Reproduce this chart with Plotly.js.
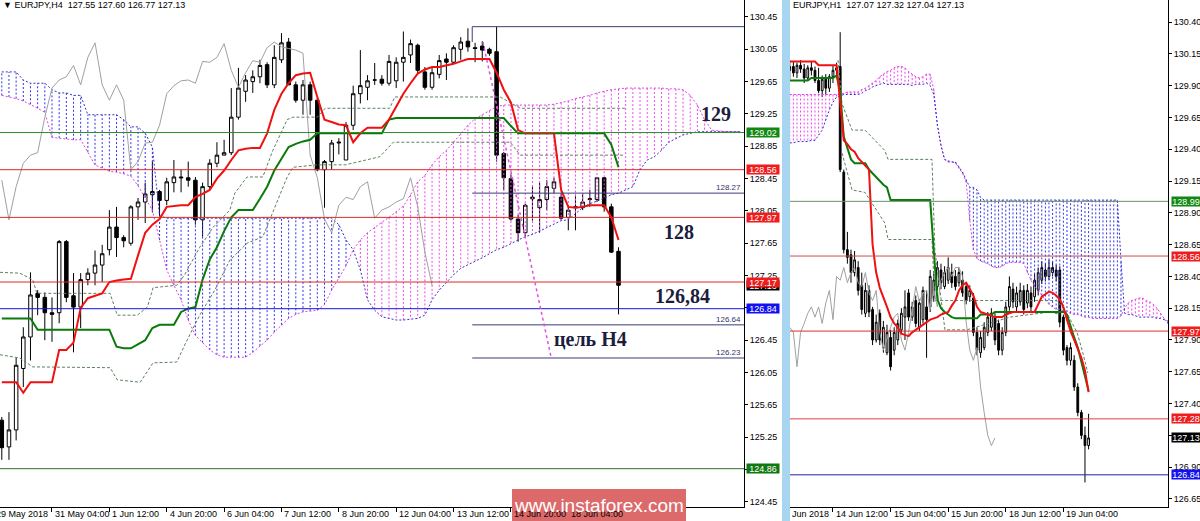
<!DOCTYPE html>
<html><head><meta charset="utf-8">
<script src="https://cdn.plot.ly/plotly-3.0.1.min.js"></script>
<style>html,body{margin:0;padding:0;background:#fff}#chart{width:1200px;height:521px}</style>
</head><body><div id="chart"></div>
<script>
// ================= DATA =================
// ---- H4 panel (bar index 1..87) ----
const h4Start = 1;
const h4Open = [125.46,125.13,125.34,126.10,126.49,127.03,126.98,126.79,126.79,127.67,
 127.00,126.86,127.20,127.28,127.38,127.57,127.85,127.72,127.65,128.10,
 128.16,128.25,128.29,128.18,128.40,128.47,128.46,128.43,127.94,128.35,
 128.64,128.74,128.77,129.21,129.53,129.65,129.71,129.86,129.61,129.92,
 130.14,129.61,129.42,129.61,129.42,128.56,128.66,128.89,128.68,129.11,
 129.50,129.58,129.67,129.68,129.63,129.66,129.89,129.98,130.10,129.77,
 129.58,129.74,129.93,129.89,130.05,130.15,130.07,130.09,130.05,130.02,
 128.76,128.45,127.95,127.78,128.20,128.09,128.19,128.33,128.22,127.97,
 128.09,128.09,128.19,128.19,128.46,128.10,127.55];
const h4High = [125.50,125.56,126.23,126.61,127.29,127.07,127.04,126.98,127.69,127.69,
 127.28,127.28,127.34,127.56,127.63,128.06,128.10,127.75,128.12,128.21,
 128.40,128.66,128.31,128.46,128.68,128.56,128.66,128.47,128.40,128.69,
 128.90,128.93,129.57,129.82,129.73,129.79,129.92,129.89,130.10,130.25,
 130.19,129.65,129.67,129.65,129.45,128.68,128.93,128.95,129.15,129.60,
 130.04,129.73,129.88,129.73,129.98,129.95,130.27,130.17,130.12,129.83,
 129.83,129.98,130.00,130.10,130.20,130.31,130.13,130.15,130.07,130.33,
 128.78,128.50,128.00,128.14,128.35,128.40,128.43,128.46,128.27,128.10,
 128.25,128.27,128.31,128.47,128.47,128.14,127.60];
const h4Low = [124.97,124.97,125.21,125.87,126.20,126.76,126.45,126.43,126.66,126.92,
 126.30,126.60,127.13,127.13,127.17,127.50,127.48,127.60,127.62,127.94,
 127.90,128.03,127.98,128.12,128.28,128.28,128.35,127.88,127.73,128.32,
 128.59,128.74,128.74,129.18,129.40,129.51,129.63,129.57,129.57,129.88,
 129.61,129.39,129.24,129.24,128.54,128.09,128.56,128.75,128.68,129.05,
 129.38,129.42,129.61,129.60,129.60,129.57,129.65,129.88,129.75,129.55,
 129.55,129.69,129.67,129.88,129.92,130.02,129.89,129.90,129.97,128.66,
 128.31,127.93,127.67,127.73,127.93,127.78,128.06,128.27,127.94,127.81,
 127.81,128.06,128.10,128.16,128.04,127.53,126.77];
const h4Close = [125.12,125.34,126.14,126.49,127.01,126.98,126.79,126.77,127.67,126.98,
 126.86,127.20,127.28,127.38,127.52,127.85,127.72,127.68,128.10,128.16,
 128.26,128.29,128.18,128.41,128.47,128.46,128.43,127.94,128.35,128.64,
 128.74,128.77,129.21,129.57,129.67,129.71,129.85,129.61,129.95,130.13,
 129.61,129.42,129.61,129.42,128.56,128.66,128.89,128.90,129.11,129.50,
 129.60,129.66,129.67,129.63,129.90,129.89,129.95,130.12,129.79,129.58,
 129.76,129.91,129.89,130.07,130.14,130.08,130.06,130.04,130.00,128.74,
 128.46,127.95,127.78,128.12,128.22,128.19,128.35,128.41,127.96,128.06,
 128.10,128.16,128.20,128.46,128.10,127.54,127.13];
const h4Tenkan = [125.93,125.93,125.93,125.80,125.93,125.93,125.93,125.93,126.33,126.33,
 126.42,126.85,126.97,127.00,127.03,127.17,127.19,127.20,127.21,127.50,
 127.78,127.88,127.95,128.10,128.11,128.12,128.12,128.22,128.26,128.31,
 128.45,128.55,128.68,128.80,128.82,128.83,128.83,129.01,129.30,129.50,
 129.63,129.73,129.75,129.76,129.46,129.18,129.15,129.12,129.11,128.90,
 129.01,129.08,129.08,129.08,129.18,129.35,129.50,129.63,129.75,129.80,
 129.83,129.83,129.85,129.87,129.90,129.93,129.93,129.93,129.93,129.76,
 129.55,129.39,129.05,129.01,129.01,129.01,129.01,129.01,128.31,128.10,
 128.09,128.10,128.12,128.12,128.12,127.97,127.69];
const h4Kijun = [126.72,126.72,126.72,126.72,126.72,126.58,126.58,126.58,126.58,126.58,
 126.58,126.58,126.58,126.58,126.58,126.58,126.37,126.35,126.35,126.40,
 126.45,126.60,126.64,126.64,126.64,126.80,126.84,126.86,127.20,127.45,
 127.60,127.80,127.97,128.06,128.06,128.06,128.20,128.35,128.55,128.70,
 128.84,128.88,128.91,128.93,129.01,129.01,129.01,129.01,129.01,129.01,
 129.01,129.01,129.01,129.01,129.18,129.20,129.20,129.20,129.20,129.20,
 129.20,129.20,129.20,129.20,129.20,129.20,129.20,129.20,129.20,129.20,
 129.20,129.10,129.01,129.01,129.01,129.01,129.01,129.01,129.01,129.01,
 129.01,129.01,129.01,129.01,129.01,128.87,128.59];
// senkou spans, bar index 1..104
const h4SenkouA = [129.48,129.46,129.44,129.41,129.37,129.32,129.27,128.96,128.95,128.94,
 128.93,128.93,128.78,128.62,128.58,128.54,128.53,128.51,128.48,128.36,
 128.21,128.06,127.69,127.32,127.13,126.95,126.70,126.51,126.42,126.33,
 126.27,126.24,126.24,126.24,126.24,126.30,126.38,126.45,126.55,126.64,
 126.72,126.77,126.80,126.81,126.82,126.89,127.07,127.22,127.37,127.57,
 127.69,127.78,127.85,127.91,127.97,128.04,128.11,128.25,128.41,128.49,
 128.62,128.72,128.80,128.90,129.01,129.11,129.19,129.24,129.29,129.34,
 129.36,129.36,129.36,129.36,129.36,129.36,129.36,129.37,129.39,129.41,
 129.44,129.46,129.48,129.51,129.53,129.55,129.56,129.57,129.57,129.57,
 129.57,129.57,129.57,129.56,129.56,129.55,129.48,129.36,129.18,129.05,
 129.04,129.03,129.03,129.03];
const h4SenkouB = [129.77,129.77,129.77,129.67,129.63,129.63,129.63,129.55,129.51,129.51,
 129.48,129.48,129.24,129.24,129.24,129.24,129.24,129.18,129.09,129.09,
 129.01,128.84,127.99,127.96,127.96,127.96,127.96,127.96,127.96,127.96,
 127.96,127.96,127.96,127.96,127.96,127.96,127.96,127.96,127.96,127.96,
 127.96,127.96,127.96,127.96,127.96,127.96,127.96,127.88,127.69,127.57,
 127.32,126.95,126.82,126.74,126.72,126.70,126.70,126.71,126.72,126.76,
 126.95,127.07,127.17,127.26,127.34,127.38,127.42,127.47,127.52,127.57,
 127.60,127.65,127.69,127.73,127.76,127.80,127.84,127.89,127.93,127.94,
 128.01,128.09,128.14,128.17,128.21,128.25,128.27,128.31,128.35,128.56,
 128.68,128.72,128.80,128.90,128.95,128.99,129.01,129.03,129.03,129.03,
 129.03,129.03,129.03,129.03];
// dashed higher-timeframe lines (knots: bar index, price)
const h4D1Idx = [0.75,3.5,5.3,5.9,16.1,17.1,19.9,21.3,22.1,25.4,26.5,28.6,30.5,32.8,33.5,35.2,37.4,38.8,40.8,41.6,45,46.1,55.1,55.8,70.5,73.3,87.9];
const h4D1Val = [127.29,127.28,127.20,127.03,127.03,126.76,126.76,126.86,127.10,127.13,127.26,127.60,127.85,128.06,128.27,128.47,128.47,128.80,129.18,129.21,129.21,129.32,129.32,129.46,129.46,129.32,129.32];
const h4D2Idx = [0.75,3.5,5.3,16.1,17.1,20.3,22.1,25.4,26.5,28.6,30.7,32.8,35.2,37.4,40.8,41.6,45,48.9,53.7,55.6,71.9,73.3,87.9];
const h4D2Val = [126.27,126.23,126.12,126.11,125.96,125.93,126.17,126.18,126.39,126.76,127.07,127.44,127.65,127.73,128.47,128.59,128.62,128.62,128.72,128.90,128.90,128.74,128.74];
const h4Levels = [129.02,128.56,127.97,127.17,126.84,124.86];
const h4FibLevels = [130.33,128.27,126.64,126.23];
const h4FibStart = 66.6;
const h4TargetLine = {i0:68.1, p0:130.14, i1:77.6, p1:126.24};
const h4TickIdx = [8,16,24,32,40,48,56,64,72,80];
const h4TickText = ['31 May 04:00','1 Jun 12:00','4 Jun 20:00','6 Jun 04:00','7 Jun 12:00','8 Jun 20:00','12 Jun 04:00','13 Jun 12:00','14 Jun 20:00','18 Jun 04:00'];
const h4YTicks = [130.45,130.05,129.65,129.25,128.85,128.45,128.05,127.65,127.25,126.85,126.45,126.05,125.65,125.25,124.85,124.45];

// ---- H1 panel (bar index 4..87) ----
const h1Start = 4;
const h1Open = [130.02,130.05,130.00,130.06,130.03,129.96,130.04,130.02,129.94,129.86,
 129.95,129.88,129.97,130.02,130.05,129.22,128.61,128.57,128.43,128.47,
 128.33,128.11,128.29,128.14,127.90,128.11,127.84,127.80,127.92,127.82,
 127.90,127.98,128.08,128.27,128.08,128.21,128.00,128.06,128.16,128.16,
 128.24,128.32,128.45,128.32,128.37,128.43,128.40,128.35,128.37,128.32,
 128.24,128.23,127.96,127.80,127.84,127.96,128.00,128.08,128.03,127.82,
 127.96,128.16,128.30,128.16,128.20,128.29,128.19,128.27,128.24,128.29,
 128.37,128.45,128.40,128.43,128.45,128.45,128.08,127.84,127.74,127.74,
 127.53,127.33,127.15,127.07];
const h1High = [130.10,130.09,130.08,130.10,130.07,130.06,130.09,130.05,130.04,129.98,
 129.99,129.99,130.06,130.08,130.32,129.24,128.75,128.61,128.60,128.52,
 128.43,128.35,128.33,128.16,128.10,128.14,128.05,128.02,127.98,128.00,
 128.06,128.15,128.29,128.30,128.20,128.25,128.22,128.32,128.29,128.45,
 128.42,128.52,128.50,128.48,128.55,128.50,128.45,128.47,128.44,128.35,
 128.33,128.27,128.00,127.97,128.04,128.12,128.15,128.12,128.06,128.00,
 128.20,128.40,128.35,128.32,128.35,128.33,128.34,128.32,128.42,128.47,
 128.52,128.50,128.53,128.52,128.49,128.48,128.10,127.86,127.88,127.78,
 127.56,127.35,127.22,127.32];
const h1Low = [129.95,129.97,129.96,130.00,129.92,129.94,129.98,129.92,129.84,129.81,
 129.83,129.85,129.92,129.98,129.22,128.58,128.50,128.35,128.40,128.25,
 128.10,128.08,128.08,127.86,127.88,127.86,127.80,127.78,127.66,127.78,
 127.86,127.95,127.90,128.05,128.05,128.00,127.97,128.03,127.76,128.12,
 128.20,128.29,128.30,128.30,128.34,128.31,128.29,128.32,128.24,128.18,
 128.20,127.93,127.78,127.76,127.82,127.93,127.97,127.86,127.78,127.78,
 127.93,128.13,128.15,128.12,128.17,128.10,128.15,128.12,128.20,128.25,
 128.34,128.36,128.37,128.40,128.36,128.00,127.78,127.70,127.70,127.50,
 127.30,127.12,126.78,127.04];
const h1Close = [130.05,130.00,130.06,130.03,129.96,130.04,130.02,129.94,129.86,129.95,
 129.88,129.97,130.02,130.04,129.24,128.61,128.55,128.43,128.53,128.29,
 128.14,128.29,128.12,127.90,128.04,127.90,128.00,127.96,127.69,127.96,
 128.03,128.11,128.16,128.08,128.16,128.03,128.19,128.29,128.06,128.40,
 128.37,128.47,128.35,128.43,128.47,128.35,128.32,128.43,128.27,128.21,
 128.29,127.96,127.82,127.92,128.00,128.08,128.11,127.90,127.82,127.96,
 128.16,128.32,128.20,128.27,128.29,128.14,128.29,128.16,128.37,128.43,
 128.47,128.40,128.47,128.47,128.40,128.04,127.82,127.74,127.84,127.53,
 127.33,127.15,127.07,127.13];
const h1Tenkan = [130.09,130.09,130.09,130.09,130.09,130.09,130.09,130.09,130.06,130.06,
 130.06,130.06,130.06,130.06,129.77,129.47,129.44,129.40,129.38,129.33,
 129.30,129.27,129.24,128.65,128.43,128.31,128.24,128.16,128.08,128.03,
 128.00,127.95,127.94,127.93,127.96,127.98,128.00,128.02,128.04,128.06,
 128.07,128.08,128.10,128.11,128.12,128.17,128.21,128.29,128.33,128.35,
 128.30,128.25,128.16,128.12,128.11,128.10,128.09,128.08,128.08,128.08,
 128.10,128.11,128.12,128.12,128.12,128.12,128.12,128.12,128.12,128.18,
 128.24,128.26,128.28,128.27,128.25,128.22,128.16,128.06,127.97,127.90,
 127.83,127.76,127.66,127.49];
const h1Kijun = [129.94,129.94,129.94,129.94,129.94,129.94,129.96,129.96,129.96,129.96,
 129.96,129.96,129.96,129.98,129.85,129.50,129.40,129.32,129.29,129.29,
 129.29,129.29,129.24,129.21,129.18,129.15,129.12,129.10,129.00,129.00,
 129.00,129.00,129.00,129.00,129.00,129.00,129.00,129.00,129.00,129.00,
 128.60,128.22,128.15,128.12,128.10,128.08,128.07,128.07,128.07,128.07,
 128.07,128.07,128.07,128.10,128.10,128.10,128.10,128.12,128.12,128.12,
 128.12,128.12,128.12,128.12,128.12,128.12,128.12,128.12,128.12,128.12,
 128.12,128.12,128.12,128.12,128.12,128.12,128.12,128.10,128.00,127.92,
 127.84,127.73,127.60,127.50];
// senkou spans, bar index 4..109
const h1SenkouA = [129.83,129.83,129.83,129.83,129.83,129.83,129.83,129.83,129.83,129.83,
 129.83,129.83,129.83,129.83,129.83,129.84,129.85,129.85,129.85,129.85,
 129.87,129.88,129.90,129.92,129.94,129.97,129.99,130.01,130.02,130.04,
 130.05,130.05,130.04,130.01,129.99,129.97,129.96,129.97,129.99,129.99,
 129.87,129.59,129.43,129.32,129.31,129.30,129.29,129.25,129.21,129.14,
 128.84,128.61,128.54,128.52,128.51,128.50,128.48,128.47,128.47,128.48,
 128.50,128.51,128.51,128.51,128.51,128.50,128.43,128.37,128.32,128.29,
 128.25,128.21,128.18,128.16,128.14,128.14,128.13,128.12,128.11,128.10,
 128.10,128.09,128.08,128.08,128.07,128.07,128.07,128.07,128.07,128.07,
 128.07,128.07,128.09,128.15,128.19,128.21,128.22,128.23,128.23,128.21,
 128.20,128.18,128.15,128.11,128.07,128.03];
const h1SenkouB = [129.45,129.45,129.46,129.46,129.46,129.46,129.47,129.47,129.51,129.55,
 129.63,129.71,129.77,129.81,129.82,129.83,129.83,129.83,129.83,129.83,
 129.84,129.86,129.87,129.89,129.90,129.91,129.92,129.91,129.91,129.91,
 129.91,129.91,129.91,129.91,129.90,129.91,129.91,129.91,129.92,129.90,
 129.83,129.59,129.43,129.32,129.30,129.30,129.30,129.26,129.22,129.16,
 129.10,129.10,129.08,129.02,129.00,129.00,129.00,129.00,129.00,129.00,
 129.00,129.00,129.00,129.00,129.00,129.00,129.00,129.00,129.00,129.00,
 129.00,129.00,129.00,129.00,129.00,129.00,129.00,129.00,129.00,129.00,
 129.00,129.00,129.00,129.00,129.00,129.00,129.00,129.00,129.00,129.00,
 129.00,129.00,128.53,128.11,128.10,128.10,128.09,128.08,128.08,128.08,
 128.08,128.08,128.07,128.07,128.06,128.05];
const h1D1Idx = [17.4,18.5,21.3,24.9,30.4,31.3,43.5,44.3,47.1,53.2,65.2,71.6,76.3,79.1];
const h1D1Val = [130.10,129.76,129.55,129.55,129.39,129.32,129.32,128.61,127.98,127.98,128.08,128.10,128.12,128.10];
const h1D2Idx = [18.5,21.3,24.9,30.4,31.3,43.5,44.3,78.2,81,83.8,85.4,86.8];
const h1D2Val = [129.37,129.08,129.06,128.82,128.69,128.69,128.21,128.21,128.11,127.96,127.80,127.64];
const h1Levels = [128.99,128.56,127.97,127.28,126.84];
const h1TickIdx = [16,32,48,64,80];
const h1TickText = ['14 Jun 12:00','15 Jun 04:00','15 Jun 20:00','18 Jun 12:00','19 Jun 04:00'];
const h1YTicks = [130.40,130.15,129.90,129.65,129.40,129.15,128.90,128.65,128.40,128.15,127.90,127.65,127.40,127.15,126.90,126.65];

// ================= DRAWING =================
const F = 'Liberation Sans, Arial, DejaVu Sans, sans-serif';
const SERIF = 'Liberation Serif, Times New Roman, serif';
const PLOT_H = 507;
const px = x => x / 1200;              // paper x from pixel
const py = y => (PLOT_H - y) / PLOT_H; // paper y from pixel

const idx = (start, n) => Array.from({length:n}, (_, k) => start + k);

function panel(xa, ya, start, O, Hh, L, C, T, K, sStart, SA, SB, d1i, d1v, d2i, d2v) {
  const tr = [];
  const xs = idx(sStart, SA.length);
  // kumo hatch: dotted vertical segments per bar
  for (const pink of [false, true]) {
    const hx = [], hy = [];
    for (let k = 0; k < xs.length; k++) {
      if ((SA[k] >= SB[k]) === pink) { hx.push(xs[k], xs[k], null); hy.push(SA[k], SB[k], null); }
    }
    tr.push({type:'scatter', mode:'lines', x:hx, y:hy, xaxis:xa, yaxis:ya, hoverinfo:'skip',
      line:{color: pink ? 'rgb(238,70,238)' : 'rgb(50,50,235)', width:1, dash:'2px,2px'}});
  }
  tr.push({type:'scatter', mode:'lines', x:xs, y:SA, xaxis:xa, yaxis:ya, hoverinfo:'skip',
    line:{color:'#e040e0', width:1, dash:'2px,2px'}});
  tr.push({type:'scatter', mode:'lines', x:xs, y:SB, xaxis:xa, yaxis:ya, hoverinfo:'skip',
    line:{color:'#3030c8', width:1, dash:'2px,2px'}});
  // dashed higher TF lines
  tr.push({type:'scatter', mode:'lines', x:d1i, y:d1v, xaxis:xa, yaxis:ya, hoverinfo:'skip',
    line:{color:'#5f7f5f', width:1, dash:'3px,2px'}});
  tr.push({type:'scatter', mode:'lines', x:d2i, y:d2v, xaxis:xa, yaxis:ya, hoverinfo:'skip',
    line:{color:'#5f7f5f', width:1, dash:'3px,2px'}});
  const cx = idx(start, C.length);
  // chikou span: closes shifted back 26 bars
  tr.push({type:'scatter', mode:'lines', x:cx.slice(26).map(v => v - 26), y:C.slice(26), xaxis:xa, yaxis:ya,
    hoverinfo:'skip', line:{color:'#a0a0a0', width:1}});
  tr.push({type:'candlestick', x:cx, open:O, high:Hh, low:L, close:C, xaxis:xa, yaxis:ya, hoverinfo:'skip',
    whiskerwidth:0,
    increasing:{line:{color:'#000', width:1}, fillcolor:'#fff'},
    decreasing:{line:{color:'#000', width:1}, fillcolor:'#000'}});
  tr.push({type:'scatter', mode:'lines', x:cx, y:K, xaxis:xa, yaxis:ya, hoverinfo:'skip',
    line:{color:'#0a7a0a', width:2}});
  tr.push({type:'scatter', mode:'lines', x:cx, y:T, xaxis:xa, yaxis:ya, hoverinfo:'skip',
    line:{color:'#f01010', width:2}});
  return tr;
}

const traces = [
  ...panel('x','y', h4Start, h4Open, h4High, h4Low, h4Close, h4Tenkan, h4Kijun, 1, h4SenkouA, h4SenkouB, h4D1Idx, h4D1Val, h4D2Idx, h4D2Val),
  ...panel('x2','y2', h1Start, h1Open, h1High, h1Low, h1Close, h1Tenkan, h1Kijun, 4, h1SenkouA, h1SenkouB, h1D1Idx, h1D1Val, h1D2Idx, h1D2Val)
];

// ---- shapes ----
const shapes = [];
const h4LevelColors = ['#2a8f2a','#e02828','#e02828','#e02828','#1414e0','#2e6e2e'];
h4Levels.forEach((v, k) => shapes.push({type:'line', xref:'x domain', x0:0, x1:1, yref:'y', y0:v, y1:v,
  line:{color:h4LevelColors[k], width:1}}));
h4FibLevels.forEach(v => shapes.push({type:'line', xref:'x', x0:h4FibStart, x1:104.5, yref:'y', y0:v, y1:v,
  line:{color:'#3c3c78', width:1}}));
shapes.push({type:'line', xref:'x', x0:h4FibStart, x1:h4FibStart, yref:'y', y0:h4FibLevels[0], y1:130.14,
  line:{color:'#3c3c78', width:1}});
shapes.push({type:'line', xref:'x', yref:'y', x0:h4TargetLine.i0, y0:h4TargetLine.p0, x1:h4TargetLine.i1, y1:h4TargetLine.p1,
  line:{color:'#e050e0', width:1.5, dash:'3px,3px'}});
const h1LevelColors = ['#6a8f6a','#c85050','#d83030','#e04040','#2020a8'];
h1Levels.forEach((v, k) => shapes.push({type:'line', xref:'x2 domain', x0:0, x1:1, yref:'y2', y0:v, y1:v,
  line:{color:h1LevelColors[k], width:1}}));
// panel separator strip
shapes.push({type:'rect', xref:'paper', yref:'paper', x0:px(782), x1:px(790), y0:py(521), y1:1,
  fillcolor:'#a8d6f0', line:{width:0}, layer:'above'});
// watermark
shapes.push({type:'rect', xref:'paper', yref:'paper', x0:px(512), x1:px(686), y0:py(521), y1:py(489),
  fillcolor:'#dd6a6a', line:{width:0}, layer:'above'});

// ---- annotations ----
const ann = [];
ann.push({xref:'paper', yref:'paper', x:px(1), y:py(5), xanchor:'left', yanchor:'middle', showarrow:false,
  text:'▼ EURJPY,H4  127.55 127.60 126.77 127.13', font:{family:F, size:9, color:'#000'}});
ann.push({xref:'paper', yref:'paper', x:px(791), y:py(5), xanchor:'left', yanchor:'middle', showarrow:false,
  text:'EURJPY,H1  127.07 127.32 127.04 127.13', font:{family:F, size:9, color:'#000'}});
// big level captions
const big = (t, x, y) => ann.push({xref:'paper', yref:'paper', x:px(x), y:py(y), xanchor:'center', yanchor:'middle',
  showarrow:false, text:'<b>' + t + '</b>', font:{family:SERIF, size:20, color:'#1c1c3c'}});
big('129', 716, 114); big('128', 679, 232); big('126,84', 682, 296); big('цель H4', 590, 339);
// fib small labels
h4FibLevels.slice(1).forEach(v => ann.push({xref:'paper', yref:'y', x:px(743), y:v, xanchor:'right', yanchor:'bottom',
  showarrow:false, text:v.toFixed(2), font:{family:F, size:8, color:'#33336a'}, yshift:-1}));
// price tags on axes
const tag = (ya, xpix, v, col, w) => ann.push({xref:'paper', yref:ya, x:px(xpix), y:v, xanchor:'left', yanchor:'middle',
  showarrow:false, text:v.toFixed(2), bgcolor:col, width:w, height:9, borderpad:0,
  font:{family:F, size:9, color:'#fff'}});
tag('y', 746, 129.02, '#118811', 32); tag('y', 746, 128.56, '#ee1c1c', 32); tag('y', 746, 127.97, '#ee1c1c', 32);
tag('y', 746, 127.13, '#000000', 32); tag('y', 746, 127.17, '#ee1c1c', 32); tag('y', 746, 126.84, '#1010f0', 32);
tag('y', 746, 124.86, '#117711', 32);
tag('y2', 1171, 128.99, '#118811', 28); tag('y2', 1171, 128.56, '#ee1c1c', 28); tag('y2', 1171, 127.97, '#ee1c1c', 28);
tag('y2', 1171, 127.28, '#ee1c1c', 28); tag('y2', 1171, 127.13, '#000000', 28); tag('y2', 1171, 126.84, '#1010f0', 28);
// date labels
h4TickIdx.forEach((v, k) => ann.push({xref:'x', yref:'paper', x:v, y:py(514), xanchor:'left', yanchor:'middle',
  showarrow:false, text:h4TickText[k], xshift:1, font:{family:F, size:9, color:'#000'}}));
ann.push({xref:'paper', yref:'paper', x:px(-6), y:py(514), xanchor:'left', yanchor:'middle', showarrow:false,
  text:'29 May 2018', font:{family:F, size:9, color:'#000'}});
h1TickIdx.forEach((v, k) => ann.push({xref:'x2', yref:'paper', x:v, y:py(514), xanchor:'left', yanchor:'middle',
  showarrow:false, text:h1TickText[k], xshift:1, font:{family:F, size:9, color:'#000'}}));
ann.push({xref:'paper', yref:'paper', x:px(790), y:py(514), xanchor:'left', yanchor:'middle', showarrow:false,
  text:'Jun 2018', font:{family:F, size:9, color:'#000'}});
ann.push({xref:'paper', yref:'paper', x:px(599), y:py(505), xanchor:'center', yanchor:'middle', showarrow:false,
  text:'www.instaforex.com', font:{family:F, size:19, color:'#fff'}});

const axX = (dom, rng, tv) => ({domain:dom, range:rng, showgrid:false, zeroline:false, showline:true, linecolor:'#000',
  linewidth:1, ticks:'outside', ticklen:4, tickcolor:'#000', tickvals:tv, showticklabels:false,
  rangeslider:{visible:false}, fixedrange:true});
const axY = (anchor, rng, tv) => ({anchor:anchor, side:'right', range:rng, showgrid:false, zeroline:false, showline:true,
  linecolor:'#000', linewidth:1, ticks:'outside', ticklen:3, tickcolor:'#000', tickvals:tv,
  ticktext:tv.map(v => v.toFixed(2)), tickfont:{family:F, size:9, color:'#000'}, fixedrange:true});

const layout = {
  width:1200, height:521, margin:{l:0, r:0, t:0, b:14}, paper_bgcolor:'#fff', plot_bgcolor:'#fff',
  showlegend:false,
  xaxis: axX([0, 744/1200], [0.75, 104.5], h4TickIdx),
  yaxis: axY('x', [124.386, 130.66], h4YTicks),
  xaxis2: axX([790/1200, 1168/1200], [4.06, 109.06], h1TickIdx),
  yaxis2: axY('x2', [126.587, 130.573], h1YTicks),
  shapes: shapes, annotations: ann
};
Plotly.newPlot('chart', traces, layout, {staticPlot:true});
</script>
</body></html>
